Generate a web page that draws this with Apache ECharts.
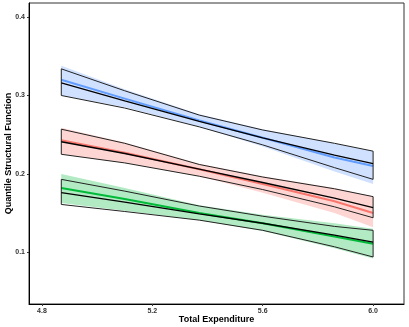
<!DOCTYPE html>
<html>
<head>
<meta charset="utf-8">
<script src="https://cdn.jsdelivr.net/npm/echarts@6/dist/echarts.min.js"></script>
<style>
  html, body { margin: 0; padding: 0; background: #fff; }
  #chart { width: 409px; height: 327px; }
</style>
</head>
<body>
<div id="chart"></div>
<script>
// Total expenditure grid
var xVals = [4.87, 5.1, 5.37, 5.6, 5.86, 6.0];
var xTicks = [4.8, 5.2, 5.6, 6.0];
var yTicks = [0.1, 0.2, 0.3, 0.4];

// blue group
var blueLine = [0.320, 0.296, 0.268, 0.246, 0.221, 0.210];
var blueBlack = [0.316, 0.293, 0.267, 0.246, 0.224, 0.213];
var blueLo = [0.300, 0.285, 0.260, 0.235, 0.203, 0.187];
var blueHi = [0.338, 0.308, 0.276, 0.257, 0.239, 0.229];
var blueBlackLo = [0.300, 0.284, 0.260, 0.237, 0.208, 0.193];
var blueBlackHi = [0.334, 0.306, 0.275, 0.256, 0.239, 0.229];

// red group
var redLine = [0.243, 0.227, 0.206, 0.187, 0.165, 0.150];
var redBlack = [0.241, 0.226, 0.206, 0.189, 0.169, 0.157];
var redLo = [0.225, 0.214, 0.197, 0.176, 0.150, 0.132];
var redHi = [0.259, 0.240, 0.213, 0.197, 0.182, 0.171];
var redBlackLo = [0.225, 0.214, 0.197, 0.180, 0.158, 0.144];
var redBlackHi = [0.257, 0.239, 0.212, 0.196, 0.181, 0.171];

// green group
var greenLine = [0.182, 0.168, 0.150, 0.137, 0.120, 0.111];
var greenBlack = [0.176, 0.164, 0.149, 0.137, 0.122, 0.113];
var greenLo = [0.163, 0.153, 0.141, 0.127, 0.105, 0.092];
var greenHi = [0.200, 0.182, 0.160, 0.148, 0.137, 0.130];
var greenBlackLo = [0.161, 0.152, 0.141, 0.128, 0.107, 0.094];
var greenBlackHi = [0.193, 0.178, 0.159, 0.146, 0.133, 0.128];

function pairs(ys) {
  return xVals.map(function (x, i) { return [x, ys[i]]; });
}

// band drawn as polygon through the axis scales
function ribbon(lo, hi, fill, stroke, z) {
  return {
    type: "custom",
    silent: true,
    z: z,
    data: [[xVals[0], lo[0]]],
    renderItem: function (params, api) {
      var pts = [];
      for (var i = 0; i < xVals.length; i++) pts.push(api.coord([xVals[i], hi[i]]));
      for (var j = xVals.length - 1; j >= 0; j--) pts.push(api.coord([xVals[j], lo[j]]));
      return {
        type: "polygon",
        shape: { points: pts },
        style: { fill: fill, stroke: stroke, lineWidth: stroke ? 1 : 0 },
      };
    },
  };
}

function line(ys, color, width, z) {
  return {
    type: "line",
    data: pairs(ys),
    symbol: "none",
    silent: true,
    z: z,
    lineStyle: { color: color, width: width },
  };
}

var myChart = echarts.init(document.getElementById("chart"));

var labelFont = { fontFamily: "Liberation Sans", fontSize: 7, color: "#333", fontWeight: "bold" };

myChart.setOption({
  animation: false,
  grid: {
    left: 29, right: 5, top: 3, bottom: 23,
    outerBoundsMode: "none",
    containLabel: false,
    show: true, borderColor: "#333", borderWidth: 1,
  },
  xAxis: {
    type: "value",
    min: 4.753, max: 6.112,
    name: "Total Expenditure",
    nameLocation: "middle",
    nameGap: 11,
    nameMoveOverlap: false,
    nameTextStyle: { fontFamily: "Liberation Sans", fontSize: 9, fontWeight: "bold", color: "#000" },
    axisLine: { lineStyle: { color: "#000", width: 1 } },
    axisTick: { customValues: xTicks, length: 2, lineStyle: { color: "#333" } },
    axisLabel: Object.assign({ customValues: xTicks, margin: 4, formatter: function (v) { return v.toFixed(1); } }, labelFont),
    splitLine: { show: false },
  },
  yAxis: {
    type: "value",
    min: 0.034, max: 0.418,
    name: "Quantile Structural Function",
    nameLocation: "middle",
    nameGap: 16,
    nameMoveOverlap: false,
    nameTextStyle: { fontFamily: "Liberation Sans", fontSize: 9, fontWeight: "bold", color: "#000" },
    axisLine: { show: true, lineStyle: { color: "#000", width: 1 } },
    axisTick: { show: true, customValues: yTicks, length: 2, lineStyle: { color: "#333" } },
    axisLabel: Object.assign({ customValues: yTicks, margin: 4, formatter: function (v) { return v.toFixed(1); } }, labelFont),
    splitLine: { show: false },
  },
  series: [
    ribbon(blueLo, blueHi, "#d0e1ff", null, 1),
    ribbon(redLo, redHi, "#fdd6d3", null, 1),
    ribbon(greenLo, greenHi, "#b2eac3", null, 1),
    line(blueLine, "#619cff", 2, 2),
    line(redLine, "#f8766d", 2, 2),
    line(greenLine, "#00ba38", 2, 2),
    ribbon(blueBlackLo, blueBlackHi, "rgba(0,0,0,0)", "#222", 3),
    ribbon(redBlackLo, redBlackHi, "rgba(0,0,0,0)", "#222", 3),
    ribbon(greenBlackLo, greenBlackHi, "rgba(0,0,0,0)", "#222", 3),
    line(blueBlack, "#000", 1.3, 4),
    line(redBlack, "#000", 1.3, 4),
    line(greenBlack, "#000", 1.3, 4),
  ],
});

window.addEventListener("resize", function () {
  if (myChart != null && myChart != undefined) {
    myChart.resize();
  }
});
</script>
</body>
</html>
